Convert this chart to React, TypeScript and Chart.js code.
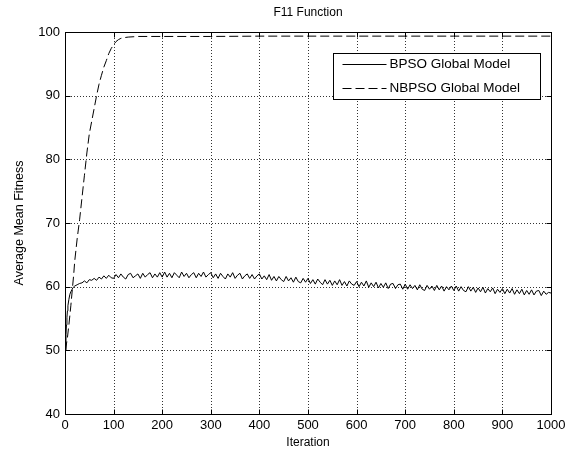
import React, { useEffect, useRef } from "react";
import { Chart, registerables } from "chart.js";

Chart.register(...registerables);

const chartTitle = "F11 Function";
const xTitle = "Iteration";
const yTitle = "Average Mean Fitness";
const seriesLabels = ["BPSO Global Model", "NBPSO Global Model"];

const xTicks = [0, 100, 200, 300, 400, 500, 600, 700, 800, 900, 1000];
const yTicks = [40, 50, 60, 70, 80, 90, 100];

// BPSO: early iterations (dense), then every 5 iterations from 100 to 1000
const bpsoEarlyIter = [1, 2, 3, 4, 5, 6, 8, 10, 12, 14, 17, 20, 25, 30, 35, 40, 45, 50, 55, 60, 65, 70, 75, 80, 85, 90, 95];
const bpsoEarlyVals = [50.0, 52.5, 54.0, 55.2, 56.2, 57.0, 58.0, 58.8, 59.2, 59.5, 59.9, 60.1, 60.3, 60.5, 60.6, 60.9, 60.6, 61.1, 61.0, 61.3, 61.0, 61.5, 61.2, 61.7, 61.3, 61.8, 61.4];
const bpsoLateStart = 100;
const bpsoLateStep = 5;
const bpsoLateVals = [
  61.3, 61.9, 61.4, 62.0, 61.5, 61.2, 61.9, 62.1, 61.4, 61.7, 62.0, 61.3, 62.1, 61.5, 61.9, 62.2, 61.4, 62.0, 61.5, 62.2,
  61.5, 62.3, 61.5, 62.1, 61.4, 62.2, 61.8, 61.4, 62.3, 61.6, 62.1, 61.4, 61.9, 62.2, 61.4, 62.1, 61.6, 62.3, 61.5, 61.9,
  62.2, 61.4, 62.0, 61.3, 62.1, 61.6, 61.2, 62.0, 61.5, 62.2, 61.3, 61.8, 62.1, 61.2, 61.7, 62.0, 61.3, 61.9, 61.2, 61.7,
  62.0, 61.2, 61.7, 61.1, 61.9, 61.0, 61.6, 60.9, 61.6, 61.1, 60.8, 61.6, 60.9, 61.4, 60.7, 61.5, 60.8, 60.6, 61.3, 60.7,
  61.3, 60.5, 61.1, 60.4, 61.2, 60.7, 60.3, 61.1, 60.4, 61.0, 60.2, 60.9, 60.3, 61.1, 60.2, 60.8, 60.1, 60.9, 60.4, 60.2,
  60.8, 60.0, 60.7, 60.1, 60.9, 59.9, 60.6, 60.0, 60.7, 59.8, 60.5, 59.9, 60.6, 59.7, 60.4, 60.5, 59.7, 60.3, 60.4, 59.6,
  60.4, 59.6, 60.3, 59.7, 60.2, 59.5, 60.3, 59.6, 59.4, 60.2, 59.6, 60.1, 59.4, 60.2, 59.5, 60.1, 59.3, 60.0, 59.5, 60.1,
  59.4, 60.1, 59.3, 60.0, 59.4, 59.2, 60.0, 59.3, 59.9, 59.1, 59.8, 59.2, 59.9, 59.0, 59.7, 59.2, 59.8, 58.9, 59.6, 59.1,
  59.7, 58.9, 59.6, 59.0, 59.7, 58.8, 59.5, 58.9, 59.6, 58.7, 59.4, 58.8, 59.5, 58.7, 59.3, 59.4, 58.6, 59.3, 58.8, 59.1,
  59.0,
];

const nbpsoIter = [1, 3, 5, 8, 10, 12, 15, 18, 20, 25, 30, 35, 40, 45, 50, 55, 60, 65, 70, 75, 80, 85, 90, 95, 100, 105, 110, 115, 120, 130, 140, 150, 200, 300, 400, 500, 600, 700, 800, 900, 1000];
const nbpsoVals = [50.0, 51.0, 52.0, 54.0, 55.5, 57.0, 59.5, 62.0, 64.0, 67.5, 70.5, 74.0, 77.5, 81.0, 84.0, 86.0, 88.0, 90.0, 91.8, 93.2, 94.5, 95.5, 96.6, 97.4, 98.0, 98.5, 98.8, 99.0, 99.1, 99.2, 99.25, 99.3, 99.3, 99.3, 99.35, 99.35, 99.35, 99.35, 99.35, 99.35, 99.35];

const FONT = "'Liberation Sans', Arial, Helvetica, sans-serif";
const DASH = [9, 4];

function buildBpso() {
  const pts = bpsoEarlyIter.map((x, i) => ({ x, y: bpsoEarlyVals[i] }));
  bpsoLateVals.forEach((y, i) => pts.push({ x: bpsoLateStart + i * bpsoLateStep, y }));
  return pts;
}

const matlabPlugin = {
  id: "matlabFrame",
  beforeDatasetsDraw(chart: any) {
    const { ctx, chartArea: a, scales } = chart;
    const xs = scales.x;
    const ys = scales.y;
    ctx.save();
    ctx.strokeStyle = "#333";
    ctx.lineWidth = 1;
    ctx.setLineDash([1, 2]);
    xTicks.forEach((v) => {
      if (v === xs.min || v === xs.max) return;
      const px = Math.round(xs.getPixelForValue(v)) + 0.5;
      ctx.beginPath();
      ctx.moveTo(px, a.top);
      ctx.lineTo(px, a.bottom);
      ctx.stroke();
    });
    yTicks.forEach((v) => {
      if (v === ys.min || v === ys.max) return;
      const py = Math.round(ys.getPixelForValue(v)) + 0.5;
      ctx.beginPath();
      ctx.moveTo(a.left, py);
      ctx.lineTo(a.right, py);
      ctx.stroke();
    });
    ctx.restore();
  },
  afterDatasetsDraw(chart: any) {
    const { ctx, chartArea: a, scales } = chart;
    const xs = scales.x;
    const ys = scales.y;
    const L = Math.round(a.left) + 0.5;
    const R = Math.round(a.right) + 0.5;
    const T = Math.round(a.top) + 0.5;
    const B = Math.round(a.bottom) + 0.5;
    ctx.save();
    ctx.strokeStyle = "#000";
    ctx.lineWidth = 1;
    ctx.setLineDash([]);
    ctx.strokeRect(L, T, R - L, B - T);
    const tl = 5;
    xTicks.forEach((v) => {
      const px = Math.round(xs.getPixelForValue(v)) + 0.5;
      ctx.beginPath();
      ctx.moveTo(px, B);
      ctx.lineTo(px, B - tl);
      ctx.moveTo(px, T);
      ctx.lineTo(px, T + tl);
      ctx.stroke();
    });
    yTicks.forEach((v) => {
      const py = Math.round(ys.getPixelForValue(v)) + 0.5;
      ctx.beginPath();
      ctx.moveTo(L, py);
      ctx.lineTo(L + tl, py);
      ctx.moveTo(R, py);
      ctx.lineTo(R - tl, py);
      ctx.stroke();
    });

    // legend
    const w = 207;
    const h = 46;
    const lx = Math.round(a.right) - 11 - w + 0.5;
    const ly = Math.round(a.top) + 21 + 0.5;
    ctx.fillStyle = "#fff";
    ctx.fillRect(lx, ly, w, h);
    ctx.strokeRect(lx, ly, w, h);
    const rows = [ly + 10, ly + 34];
    const dashes = [[], DASH];
    ctx.font = `13.5px ${FONT}`;
    ctx.textBaseline = "middle";
    ctx.textAlign = "left";
    seriesLabels.forEach((label, i) => {
      const ry = Math.round(rows[i]) + 0.5;
      ctx.setLineDash(dashes[i]);
      ctx.beginPath();
      ctx.moveTo(lx + 9, ry);
      ctx.lineTo(lx + 53, ry);
      ctx.stroke();
      ctx.setLineDash([]);
      ctx.fillStyle = "#000";
      ctx.fillText(label, lx + 56, ry);
    });
    ctx.restore();
  },
};

export default function App() {
  const ref = useRef<HTMLCanvasElement | null>(null);
  useEffect(() => {
    document.body.style.margin = "0";
    const canvas = ref.current;
    if (!canvas) return;
    Chart.defaults.font.family = FONT;
    Chart.defaults.color = "#000";
    const chart = new Chart(canvas, {
      type: "line",
      data: {
        datasets: [
          {
            label: seriesLabels[0],
            data: buildBpso(),
            borderColor: "#000",
            borderWidth: 1,
            pointRadius: 0,
            tension: 0,
            fill: false,
          },
          {
            label: seriesLabels[1],
            data: nbpsoIter.map((x, i) => ({ x, y: nbpsoVals[i] })),
            borderColor: "#000",
            borderWidth: 1,
            borderDash: DASH,
            pointRadius: 0,
            tension: 0,
            fill: false,
          },
        ],
      },
      options: {
        animation: false,
        responsive: false,
        maintainAspectRatio: false,
        layout: { padding: { left: 0, right: 20, top: 0, bottom: 0 } },
        plugins: {
          legend: { display: false },
          tooltip: { enabled: false },
          title: {
            display: true,
            text: chartTitle,
            color: "#000",
            fullSize: false,
            font: { size: 12, weight: "normal", family: FONT, lineHeight: 1.2 },
            padding: { top: 5, bottom: 12.6 },
          },
        },
        scales: {
          x: {
            type: "linear",
            min: 0,
            max: 1000,
            grid: { display: false, drawTicks: false },
            border: { display: false },
            ticks: {
              stepSize: 100,
              color: "#000",
              padding: 4,
              maxRotation: 0,
              autoSkip: false,
              font: { size: 13, family: FONT },
              callback: (v: any) => String(v),
            },
            title: {
              display: true,
              text: xTitle,
              color: "#000",
              font: { size: 12, family: FONT, lineHeight: 1.2 },
              padding: { top: 0, bottom: 5 },
            },
            afterFit: (s: any) => {
              s.height = 41;
            },
          },
          y: {
            type: "linear",
            min: 40,
            max: 100,
            grid: { display: false, drawTicks: false },
            border: { display: false },
            ticks: {
              stepSize: 10,
              color: "#000",
              padding: 5,
              autoSkip: false,
              font: { size: 13, family: FONT },
              callback: (v: any) => String(v),
            },
            title: {
              display: true,
              text: yTitle,
              color: "#000",
              font: { size: 12.5, family: FONT, lineHeight: 1.2 },
              padding: { top: 12, bottom: 0 },
            },
            afterFit: (s: any) => {
              s.width = 65;
            },
          },
        },
      },
      plugins: [matlabPlugin],
    });
    return () => chart.destroy();
  }, []);
  return (
    <div style={{ width: 571, height: 455, background: "#fff" }}>
      <canvas ref={ref} width={571} height={455} style={{ display: "block", width: 571, height: 455 }} />
    </div>
  );
}
